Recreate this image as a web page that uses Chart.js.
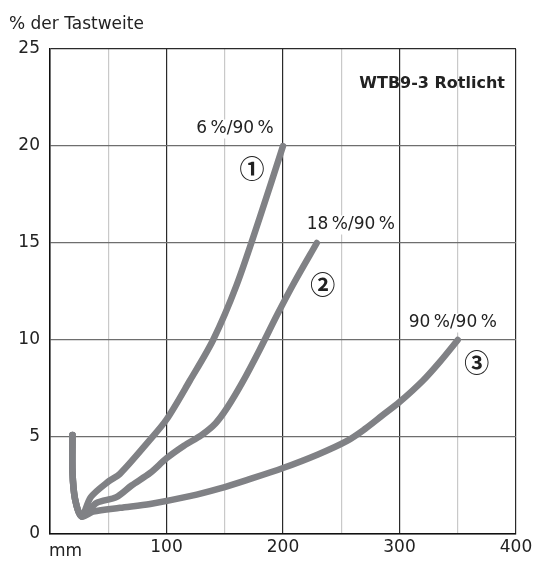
<!DOCTYPE html>
<html>
<head>
<meta charset="utf-8">
<script src="https://cdn.jsdelivr.net/npm/chart.js@4.4.1/dist/chart.umd.min.js"></script>
<style>
  html, body { margin: 0; padding: 0; background: #fff; }
  #wrap { width: 537px; height: 561px; }
</style>
</head>
<body>
<div id="wrap"><canvas id="grafico"></canvas></div>
<script>
// Kurven: Abstand in mm (x) und % der Tastweite (y)
var kurve1X = [19.3, 19.3, 21.5, 27.2, 35, 50, 60, 85, 100, 120, 140, 160, 180, 200];
var kurve1Y = [5.1, 3.2, 1.8, 0.9, 1.9, 2.7, 3.1, 4.8, 5.9, 7.9, 10.0, 12.8, 16.3, 20.0];

var kurve2X = [19.3, 19.3, 21.5, 27.2, 40, 57, 70, 86, 100, 115, 130, 142, 152, 165, 180, 195, 210, 229];
var kurve2Y = [5.1, 3.2, 1.8, 0.9, 1.6, 1.9, 2.5, 3.15, 3.9, 4.55, 5.1, 5.7, 6.5, 7.8, 9.5, 11.3, 13.0, 15.0];

var kurve3X = [19.3, 19.3, 21.5, 27.2, 37, 60, 86, 120, 146, 170, 200, 230, 255, 270, 285, 300, 320, 335, 350];
var kurve3Y = [5.1, 3.2, 1.8, 0.9, 1.15, 1.35, 1.55, 1.95, 2.35, 2.8, 3.4, 4.1, 4.8, 5.4, 6.1, 6.8, 7.9, 8.9, 10.0];

var kurvenLabels = ['6\u2009%/90\u2009%', '18\u2009%/90\u2009%', '90\u2009%/90\u2009%'];
var kurvenNummern = ['\u2460', '\u2461', '\u2462'];

var xTicks = [100, 200, 300, 400];
var yTicks = [0, 5, 10, 15, 20, 25];

function punkte(xs, ys) {
    return xs.map(function (x, i) { return { x: x, y: ys[i] }; });
}

var schrift = '"DejaVu Sans", sans-serif';
var kreisSchrift = '"Noto Sans CJK JP", "DejaVu Sans", sans-serif';
var grau = '#808185';

// Beschriftungen an den Kurvenenden (Versatz in Pixeln)
var beschriftungen = [
    { kurve: 0, text: kurvenLabels[0], dx: -48, dy: -17, font: '17px ' + schrift, h: 17 },
    { kurve: 1, text: kurvenLabels[1], dx: 34, dy: -18, font: '17px ' + schrift, h: 17 },
    { kurve: 2, text: kurvenLabels[2], dx: -5, dy: -17, font: '17px ' + schrift, h: 17 },
    { kurve: 0, text: kurvenNummern[0], dx: -31, dy: 22, font: 'bold 25px ' + kreisSchrift, h: 25 },
    { kurve: 1, text: kurvenNummern[1], dx: 6, dy: 41, font: 'bold 25px ' + kreisSchrift, h: 25 },
    { kurve: 2, text: kurvenNummern[2], dx: 19, dy: 22, font: 'bold 25px ' + kreisSchrift, h: 25 }
];

var textPlugin = {
    id: 'texte',
    afterDraw: function (chart) {
        var c = chart.ctx;
        var sx = chart.scales.x, sy = chart.scales.y;
        c.save();
        c.textBaseline = 'middle';
        c.textAlign = 'center';
        beschriftungen.forEach(function (b) {
            var d = chart.data.datasets[b.kurve].data;
            var p = d[d.length - 1];
            var px = sx.getPixelForValue(p.x) + b.dx;
            var py = sy.getPixelForValue(p.y) + b.dy;
            c.font = b.font;
            var w = c.measureText(b.text).width;
            c.fillStyle = '#fff';
            c.fillRect(px - w / 2 - 3, py - b.h / 2 - 1, w + 6, b.h + 2);
            c.fillStyle = '#222';
            c.fillText(b.text, px, py);
        });
        // Achsentitel
        c.textAlign = 'left';
        c.font = '17px ' + schrift;
        c.fillStyle = '#222';
        c.fillText('% der Tastweite', 9, 25);
        c.fillText('mm', sx.left - 1, 552);
        // Titel im Diagramm
        c.textAlign = 'right';
        c.font = 'bold 16px ' + schrift;
        c.fillText('WTB9-3 Rotlicht', sx.right - 11, 84);
        c.restore();
    }
};

var ds = function (xs, ys) {
    return {
        data: punkte(xs, ys),
        borderColor: grau,
        borderWidth: 6.5,
        borderCapStyle: 'round',
        borderJoinStyle: 'round',
        pointRadius: 0,
        tension: 0.3,
        fill: false
    };
};

var ctx = document.getElementById('grafico').getContext('2d');
var grafico = new Chart(ctx, {
    type: 'line',
    data: {
        datasets: [ds(kurve1X, kurve1Y), ds(kurve2X, kurve2Y), ds(kurve3X, kurve3Y)]
    },
    options: {
        responsive: true,
        maintainAspectRatio: false,
        animation: false,
        layout: { padding: { top: 49, right: 21, left: 0, bottom: 0 } },
        plugins: { legend: { display: false }, tooltip: { enabled: false } },
        scales: {
            x: {
                type: 'linear',
                min: 0,
                max: 400,
                afterFit: function (s) { s.height = 27; },
                afterBuildTicks: function (s) {
                    s.ticks = [0, 50, 100, 150, 200, 250, 300, 350, 400].map(function (v) { return { value: v }; });
                },
                ticks: {
                    autoSkip: false,
                    maxRotation: 0,
                    padding: 3,
                    color: '#222',
                    font: { family: schrift, size: 17 },
                    callback: function (v) { return xTicks.indexOf(v) >= 0 ? String(v) : ''; }
                },
                grid: {
                    drawTicks: false,
                    lineWidth: 1.2,
                    color: function (c) { return c.tick && c.tick.value % 100 === 0 ? '#2a2a2a' : '#c9c9c9'; }
                },
                border: { display: true, color: '#111', width: 1.5 }
            },
            y: {
                min: 0,
                max: 25,
                afterFit: function (s) { s.width = 50; },
                afterBuildTicks: function (s) {
                    s.ticks = yTicks.map(function (v) { return { value: v }; });
                },
                ticks: {
                    padding: 10,
                    color: '#222',
                    font: { family: schrift, size: 17 }
                },
                grid: {
                    drawTicks: false,
                    lineWidth: 1.2,
                    color: function (c) { return c.tick && c.tick.value === 25 ? '#2a2a2a' : '#6e6e6e'; }
                },
                border: { display: true, color: '#111', width: 1.5 }
            }
        }
    },
    plugins: [textPlugin]
});
</script>
</body>
</html>
